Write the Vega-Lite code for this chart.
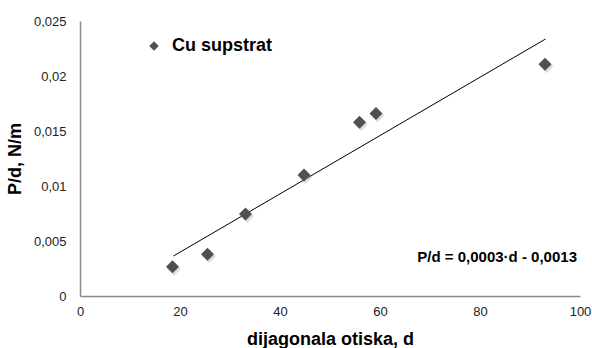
{
  "$schema": "https://vega.github.io/schema/vega-lite/v6.json",
  "width": 500,
  "height": 275,
  "autosize": {"type": "none"},
  "padding": {"left": 80, "top": 21, "right": 12, "bottom": 52},
  "background": "white",
  "config": {
    "view": {"stroke": null},
    "font": "Liberation Sans",
    "axis": {
      "grid": false,
      "ticks": false,
      "labelFlush": false,
      "domainColor": "#8a8a8a",
      "domainWidth": 1.5,
      "labelFont": "Liberation Sans",
      "labelFontSize": 13,
      "labelColor": "#222222",
      "titleFont": "Liberation Sans",
      "titleFontSize": 18,
      "titleFontWeight": "bold",
      "titleColor": "#000000"
    }
  },
  "layer": [
    {
      "data": {"values": [{"d": 18.7, "pd": 0.00364}, {"d": 93.1, "pd": 0.02336}]},
      "mark": {"type": "line", "color": "#000000", "strokeWidth": 1},
      "encoding": {
        "x": {"field": "d", "type": "quantitative", "scale": {"domain": [0, 100], "nice": false},
          "axis": {"values": [0, 20, 40, 60, 80, 100], "title": "dijagonala otiska, d", "labelPadding": 9, "titlePadding": 12}},
        "y": {"field": "pd", "type": "quantitative", "scale": {"domain": [0, 0.025], "nice": false},
          "axis": {"values": [0, 0.005, 0.01, 0.015, 0.02, 0.025], "title": "P/d, N/m", "labelPadding": 14,
            "labelExpr": "replace(format(datum.value, '~g'), '.', ',')", "titlePadding": 9}}
      }
    },
    {
      "data": {"values": [
        {"series": "Cu supstrat", "d": 18.5, "pd": 0.00266},
        {"series": "Cu supstrat", "d": 25.5, "pd": 0.0038},
        {"series": "Cu supstrat", "d": 33.1, "pd": 0.00745},
        {"series": "Cu supstrat", "d": 44.8, "pd": 0.011},
        {"series": "Cu supstrat", "d": 55.9, "pd": 0.0158},
        {"series": "Cu supstrat", "d": 59.2, "pd": 0.0166},
        {"series": "Cu supstrat", "d": 93.0, "pd": 0.02106}
      ]},
      "mark": {"type": "point", "shape": "diamond", "filled": true, "opacity": 0.35, "size": 190, "color": "#9a9a9a", "xOffset": 1.5, "yOffset": 2},
      "encoding": {
        "x": {"field": "d", "type": "quantitative"},
        "y": {"field": "pd", "type": "quantitative"}
      }
    },
    {
      "data": {"values": [
        {"series": "Cu supstrat", "d": 18.5, "pd": 0.00266},
        {"series": "Cu supstrat", "d": 25.5, "pd": 0.0038},
        {"series": "Cu supstrat", "d": 33.1, "pd": 0.00745},
        {"series": "Cu supstrat", "d": 44.8, "pd": 0.011},
        {"series": "Cu supstrat", "d": 55.9, "pd": 0.0158},
        {"series": "Cu supstrat", "d": 59.2, "pd": 0.0166},
        {"series": "Cu supstrat", "d": 93.0, "pd": 0.02106}
      ]},
      "mark": {"type": "point", "shape": "diamond", "filled": true, "opacity": 1, "size": 170},
      "encoding": {
        "x": {"field": "d", "type": "quantitative"},
        "y": {"field": "pd", "type": "quantitative"},
        "color": {"field": "series", "type": "nominal", "scale": {"range": ["#505050"]},
          "legend": {"title": null, "orient": "none", "legendX": 65, "legendY": 16, "padding": 0,
            "symbolType": "diamond", "symbolSize": 90, "symbolFillColor": "#505050", "symbolStrokeWidth": 0,
            "labelFont": "Liberation Sans", "labelFontSize": 18, "labelFontWeight": "bold", "labelColor": "#000000", "labelOffset": 9}}
      }
    },
    {
      "data": {"values": [{"d": 99.4, "pd": 0.00355, "label": "P/d = 0,0003·d - 0,0013"}]},
      "mark": {"type": "text", "align": "right", "baseline": "middle", "fontWeight": "bold", "fontSize": 15, "font": "Liberation Sans", "color": "#000000"},
      "encoding": {
        "x": {"field": "d", "type": "quantitative"},
        "y": {"field": "pd", "type": "quantitative"},
        "text": {"field": "label"}
      }
    }
  ]
}
